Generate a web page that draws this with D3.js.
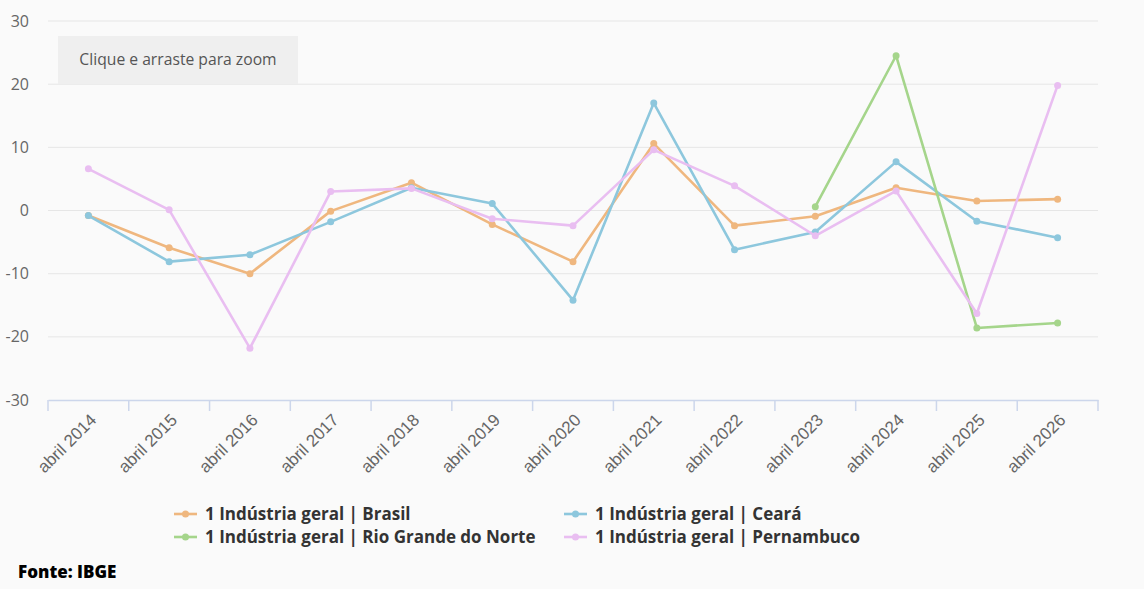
<!DOCTYPE html>
<html>
<head>
<meta charset="utf-8">
<script src="https://cdn.jsdelivr.net/npm/d3@7"></script>
<style>
  body { margin: 0; background: #fafafa; }
  svg { display: block; font-family: "Open Sans", sans-serif; }
</style>
</head>
<body>
<div id="chart"></div>
<script>
// categorias e series
const categories = ['abril 2014', 'abril 2015', 'abril 2016', 'abril 2017', 'abril 2018',
  'abril 2019', 'abril 2020', 'abril 2021', 'abril 2022', 'abril 2023',
  'abril 2024', 'abril 2025', 'abril 2026'];

const brasil = [-0.8, -5.9, -10.0, -0.1, 4.4, -2.2, -8.1, 10.6, -2.4, -0.9, 3.6, 1.5, 1.8];
const ceara = [-0.8, -8.1, -7.0, -1.8, 3.6, 1.1, -14.2, 17.0, -6.2, -3.4, 7.7, -1.7, -4.3];
const rioGrandeNorte = [null, null, null, null, null, null, null, null, null, 0.6, 24.5, -18.6, -17.8];
const pernambuco = [6.6, 0.1, -21.8, 3.0, 3.5, -1.3, -2.4, 9.6, 3.9, -4.0, 3.1, -16.3, 19.8];

const yTicks = [-30, -20, -10, 0, 10, 20, 30];

const series = [
  { name: '1 Indústria geral | Brasil', values: brasil, color: '#efb77f' },
  { name: '1 Indústria geral | Ceará', values: ceara, color: '#8dc7dd' },
  { name: '1 Indústria geral | Rio Grande do Norte', values: rioGrandeNorte, color: '#a5d58b' },
  { name: '1 Indústria geral | Pernambuco', values: pernambuco, color: '#e9bef1' }
];

const width = 1144, height = 589;
const plot = { left: 48, right: 1098, top: 21, bottom: 400 };

const svg = d3.select('#chart').append('svg')
  .attr('width', width)
  .attr('height', height);

const x = d3.scaleBand()
  .domain(categories)
  .range([plot.left, plot.right]);
const y = d3.scaleLinear()
  .domain([-30, 30])
  .range([plot.bottom, plot.top]);

// grade
svg.append('g')
  .selectAll('line')
  .data(yTicks.filter((d) => d !== -30))
  .enter().append('line')
  .attr('x1', plot.left)
  .attr('x2', plot.right)
  .attr('y1', (d) => y(d))
  .attr('y2', (d) => y(d))
  .attr('stroke', '#e6e6e6')
  .attr('stroke-width', 1);

// eixo y
const yAxis = svg.append('g')
  .attr('transform', 'translate(' + plot.left + ',0)')
  .call(d3.axisLeft(y).tickValues(yTicks).tickSize(0).tickPadding(19).tickFormat((d) => String(d)));
yAxis.select('.domain').remove();
yAxis.selectAll('text')
  .attr('fill', '#666')
  .style('font-size', '16px')
  .style('font-family', '"Open Sans", sans-serif');

// eixo x
const xAxis = svg.append('g')
  .attr('transform', 'translate(0,' + plot.bottom + ')')
  .call(d3.axisBottom(x).tickSize(0).tickFormat(''));
xAxis.select('.domain').attr('stroke', '#ccd6eb').attr('stroke-width', 1.5);

const edges = categories.map((d) => x(d)).concat([plot.right]);
xAxis.selectAll('.edge')
  .data(edges)
  .enter().append('line')
  .attr('class', 'edge')
  .attr('x1', (d) => d)
  .attr('x2', (d) => d)
  .attr('y1', 0)
  .attr('y2', 11)
  .attr('stroke', '#ccd6eb')
  .attr('stroke-width', 1.5);

xAxis.selectAll('.lbl')
  .data(categories)
  .enter().append('text')
  .attr('class', 'lbl')
  .attr('transform', (d) => 'translate(' + (x(d) + x.bandwidth() / 2 + 9) + ',21) rotate(-45)')
  .attr('text-anchor', 'end')
  .attr('fill', '#666')
  .style('font-size', '17px')
  .text((d) => d);

// linhas
const line = d3.line()
  .defined((d) => d != null)
  .x((d, i) => x(categories[i]) + x.bandwidth() / 2)
  .y((d) => y(d));

series.forEach((s) => {
  const g = svg.append('g');
  g.append('path')
    .datum(s.values)
    .attr('fill', 'none')
    .attr('stroke', s.color)
    .attr('stroke-width', 2.6)
    .attr('stroke-linejoin', 'round')
    .attr('d', line);
  g.selectAll('circle')
    .data(s.values.map((v, i) => ({ v, i })).filter((d) => d.v != null))
    .enter().append('circle')
    .attr('cx', (d) => x(categories[d.i]) + x.bandwidth() / 2)
    .attr('cy', (d) => y(d.v))
    .attr('r', 3.5)
    .attr('fill', s.color);
});

// botao de zoom
const zoomBox = svg.append('g').attr('transform', 'translate(58,36)');
zoomBox.append('rect')
  .attr('width', 240)
  .attr('height', 48)
  .attr('fill', '#efefef');
zoomBox.append('text')
  .attr('x', 120)
  .attr('y', 29)
  .attr('text-anchor', 'middle')
  .attr('fill', '#555')
  .style('font-size', '15.7px')
  .text('Clique e arraste para zoom');

// legenda
const legendPos = [[174, 514], [564, 514], [174, 537], [564, 537]];
series.forEach((s, i) => {
  const lg = svg.append('g')
    .attr('transform', 'translate(' + legendPos[i][0] + ',' + legendPos[i][1] + ')');
  lg.append('line')
    .attr('x1', 0).attr('x2', 23)
    .attr('stroke', s.color)
    .attr('stroke-width', 2.6);
  lg.append('circle')
    .attr('cx', 11.5)
    .attr('r', 3.5)
    .attr('fill', s.color);
  lg.append('text')
    .attr('x', 31)
    .attr('y', 6)
    .attr('fill', '#333')
    .style('font-size', '17px')
    .style('font-weight', 'bold')
    .text(s.name);
});

svg.append('text')
  .attr('x', 18)
  .attr('y', 578)
  .attr('fill', '#000')
  .style('font-size', '17px')
  .style('font-weight', 800)
  .text('Fonte: IBGE');
</script>
</body>
</html>
